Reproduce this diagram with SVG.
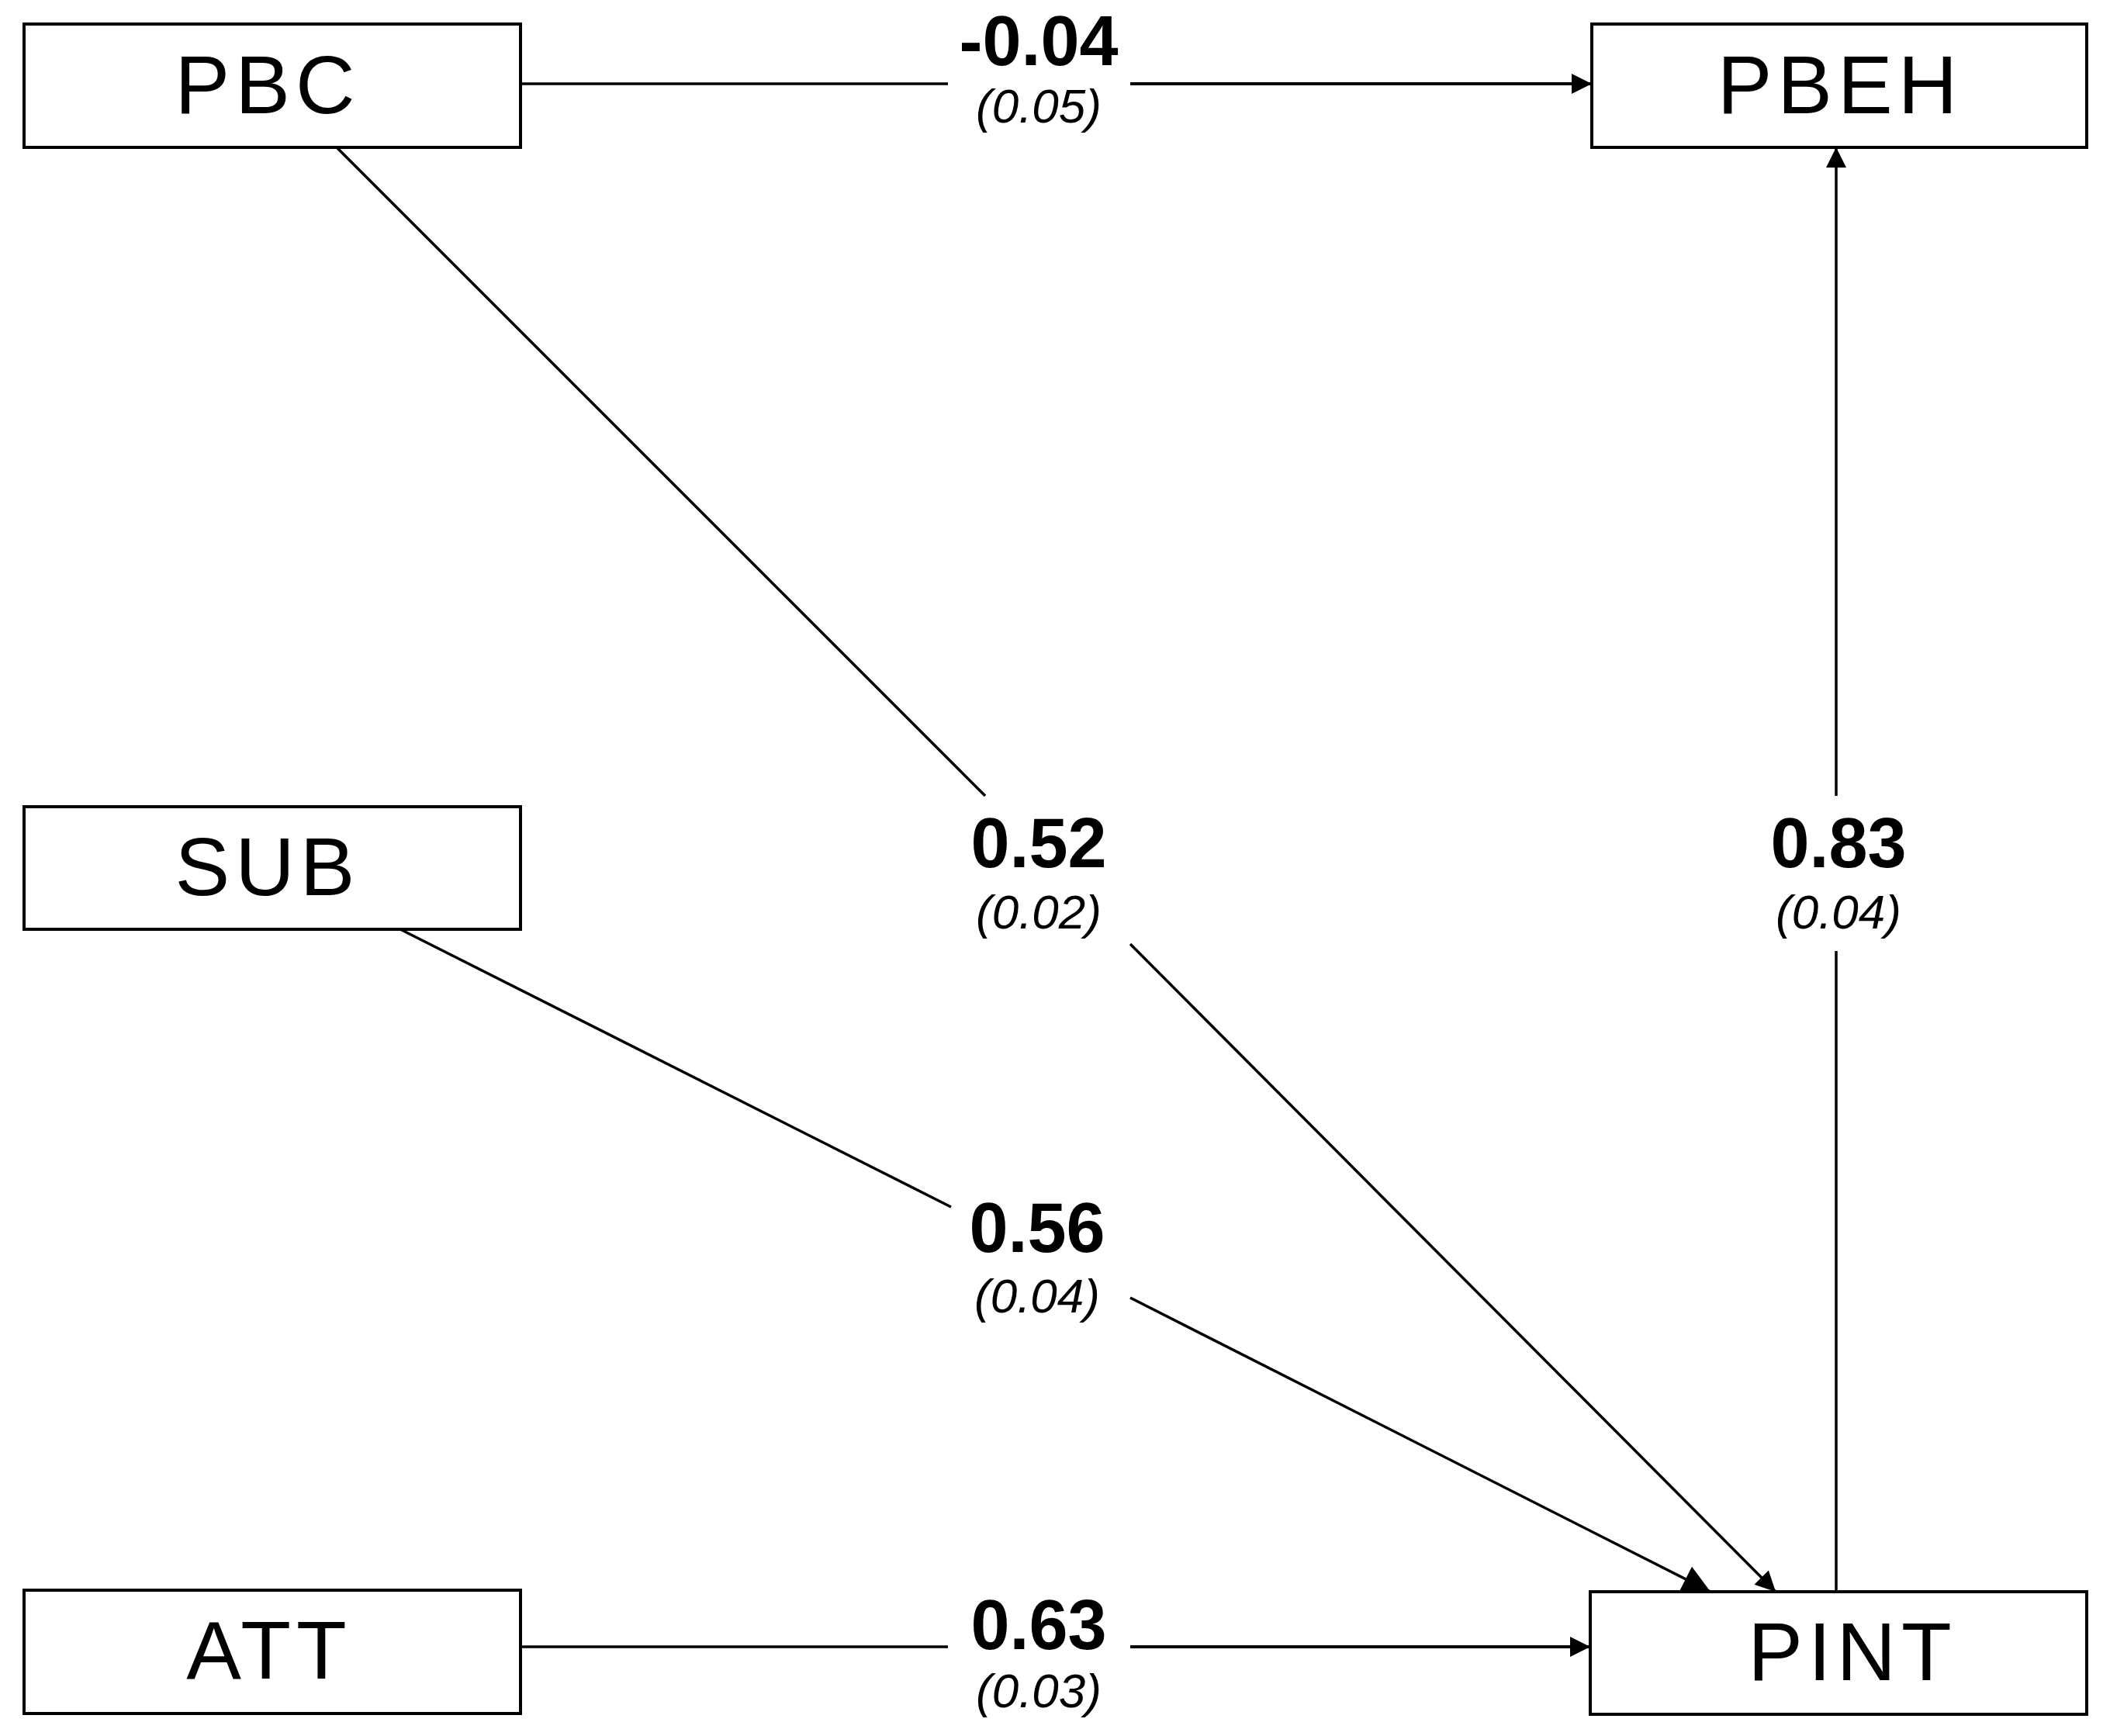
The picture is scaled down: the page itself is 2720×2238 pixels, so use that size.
<svg xmlns="http://www.w3.org/2000/svg" width="2720" height="2238" viewBox="0 0 2720 2238">
<style>
.box{fill:#fff;stroke:#000;stroke-width:4}
.nt{font-family:"Liberation Sans",Arial,sans-serif;font-size:106px;letter-spacing:7px;text-anchor:middle}
.c{font-family:"Liberation Sans",Arial,sans-serif;font-size:90px;font-weight:bold;text-anchor:middle}
.se{font-family:"Liberation Sans",Arial,sans-serif;font-size:62px;font-style:italic;text-anchor:middle}
.ln{stroke:#000;stroke-width:3.5;fill:none}
</style>
<defs>
<marker id="ah" viewBox="0 0 10 10" refX="10" refY="5" markerWidth="32" markerHeight="26" markerUnits="userSpaceOnUse" orient="auto">
<path d="M0,0 L10,5 L0,10 z" fill="#000"/>
</marker>
<marker id="ah2" viewBox="0 0 10 10" refX="10" refY="5" markerWidth="38" markerHeight="36" markerUnits="userSpaceOnUse" orient="auto">
<path d="M0,0 L10,5 L0,10 z" fill="#000"/>
</marker>
</defs>
<rect width="2720" height="2238" fill="#fff"/>
<g id="connectors">
<line class="ln" x1="671" y1="108" x2="1222" y2="108"/>
<line class="ln" x1="1457" y1="108" x2="2052" y2="108" marker-end="url(#ah)" style="stroke-width:4"/>
<line class="ln" x1="435" y1="191" x2="1270" y2="1026"/>
<line class="ln" x1="1457" y1="1217" x2="2289" y2="2052" marker-end="url(#ah)"/>
<line class="ln" x1="516" y1="1198" x2="1226" y2="1556"/>
<line class="ln" x1="1457" y1="1673" x2="2205" y2="2052" marker-end="url(#ah2)"/>
<line class="ln" x1="671" y1="2123" x2="1222" y2="2123"/>
<line class="ln" x1="1457" y1="2123" x2="2050" y2="2123" marker-end="url(#ah)" style="stroke-width:4"/>
<line class="ln" x1="2367" y1="2052" x2="2367" y2="1226"/>
<line class="ln" x1="2367" y1="1026" x2="2367" y2="190" marker-end="url(#ah)"/>
<text class="c" x="1339" y="84">-0.04</text><text class="se" x="1339" y="158">(0.05)</text>
<text class="c" x="1339" y="1118">0.52</text><text class="se" x="1339" y="1197">(0.02)</text>
<text class="c" x="2370" y="1118">0.83</text><text class="se" x="2370" y="1197">(0.04)</text>
<text class="c" x="1337" y="1614">0.56</text><text class="se" x="1337" y="1692">(0.04)</text>
<text class="c" x="1339" y="2126">0.63</text><text class="se" x="1339" y="2201">(0.03)</text>
</g>
<g id="PBC"><rect class="box" x="31" y="31" width="640" height="159"/><text class="nt" x="345" y="146">PBC</text></g>
<g id="PBEH"><rect class="box" x="2052" y="31" width="638" height="159"/><text class="nt" x="2372" y="146">PBEH</text></g>
<g id="SUB"><rect class="box" x="31" y="1040" width="640" height="158"/><text class="nt" x="345" y="1154">SUB</text></g>
<g id="ATT"><rect class="box" x="31" y="2050" width="640" height="159"/><text class="nt" x="347" y="2164">ATT</text></g>
<g id="PINT"><rect class="box" x="2050" y="2052" width="640" height="158"/><text class="nt" x="2388" y="2166">PINT</text></g>
</svg>
